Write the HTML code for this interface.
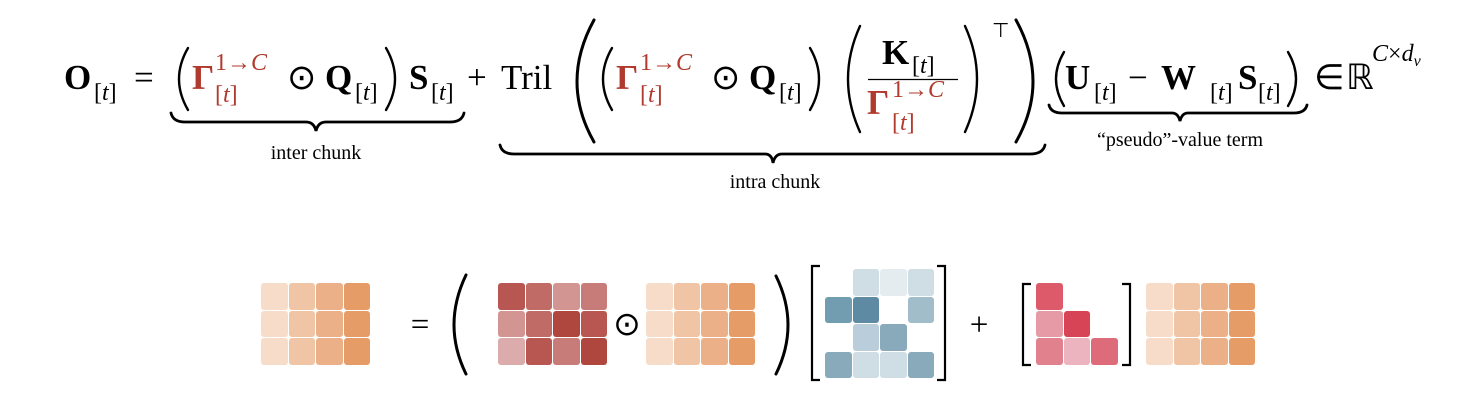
<!DOCTYPE html>
<html><head><meta charset="utf-8"><style>
body{margin:0;width:1482px;height:416px;background:#fff;overflow:hidden;position:relative}
svg{position:absolute;left:0;top:0}
.g{position:absolute;display:grid;gap:1px}
.g div{border-radius:3px}
</style></head><body>
<svg width="1482" height="416" font-family="Liberation Serif, serif">
<g font-size="35" fill="#000">
<text x="64" y="89" font-weight="bold">O</text>
<text x="94" y="100" font-size="24">[<tspan font-style="italic">t</tspan>]</text>
<text x="134" y="89">=</text>
<text x="409" y="89" font-weight="bold">S</text>
<text x="431" y="100" font-size="24">[<tspan font-style="italic">t</tspan>]</text>
<text x="467" y="89">+</text>
<text x="501" y="89">Tril</text>
<text x="287" y="89">⊙</text>
<text x="325" y="89" font-weight="bold">Q</text>
<text x="355" y="100" font-size="24">[<tspan font-style="italic">t</tspan>]</text>
<text x="711" y="89">⊙</text>
<text x="749" y="89" font-weight="bold">Q</text>
<text x="779" y="100" font-size="24">[<tspan font-style="italic">t</tspan>]</text>
<text x="882" y="64" font-weight="bold">K</text>
<text x="912" y="73" font-size="24">[<tspan font-style="italic">t</tspan>]</text>
<text x="992" y="37" font-size="20">⊤</text>
<text x="1065" y="89" font-weight="bold">U</text>
<text x="1094" y="100" font-size="24">[<tspan font-style="italic">t</tspan>]</text>
<text x="1128" y="89">−</text>
<text x="1161" y="89" font-weight="bold">W</text>
<text x="1210" y="100" font-size="24">[<tspan font-style="italic">t</tspan>]</text>
<text x="1238" y="89" font-weight="bold">S</text>
<text x="1258" y="100" font-size="24">[<tspan font-style="italic">t</tspan>]</text>
<text x="1314" y="89">∈</text>
<text x="1346" y="89">ℝ</text>
<text x="1372" y="61" font-size="24" font-style="italic">C<tspan font-style="normal">×</tspan>d<tspan font-size="16" dy="5">v</tspan></text>
</g>
<g fill="#b03a2e">
<text x="192" y="89" font-size="35" font-weight="bold">Γ</text>
<text x="215" y="70" font-size="24">1→<tspan font-style="italic">C</tspan></text>
<text x="215" y="102" font-size="24">[<tspan font-style="italic">t</tspan>]</text>
<text x="616" y="89" font-size="35" font-weight="bold">Γ</text>
<text x="640" y="70" font-size="24">1→<tspan font-style="italic">C</tspan></text>
<text x="640" y="102" font-size="24">[<tspan font-style="italic">t</tspan>]</text>
<text x="867" y="114" font-size="35" font-weight="bold">Γ</text>
<text x="892" y="97" font-size="24">1→<tspan font-style="italic">C</tspan></text>
<text x="892" y="130" font-size="24">[<tspan font-style="italic">t</tspan>]</text>
</g>
<line x1="868" y1="79.5" x2="958" y2="79.5" stroke="#000" stroke-width="1.2"/>
<g fill="none" stroke="#000" stroke-width="2.4" stroke-linecap="round">
<path d="M188 48 Q170 79 188 110"/><path d="M386 48 Q404 79 386 110"/>
<path d="M612 48 Q594 79 612 110"/><path d="M810 48 Q828 79 810 110"/>
<path d="M860 26 Q836 79 860 132"/><path d="M965 26 Q989 79 965 132"/>
<path d="M1064 52 Q1048 79 1064 106"/><path d="M1288 52 Q1304 79 1288 106"/>
<path d="M594 20 Q560 82 594 142" stroke-width="3"/><path d="M1016 20 Q1050 82 1016 142" stroke-width="3"/>
<path d="M171 113 Q173 122 185 122 L306 122 Q314 122 316 131 Q318 122 326 122 L450 122 Q462 122 464 113" stroke-width="2.8"/>
<path d="M500 145 Q502 154 514 154 L765 154 Q772 154 773 163 Q775 154 782 154 L1030 154 Q1043 154 1045 145" stroke-width="2.8"/>
<path d="M1049 105 Q1051 113 1062 113 L1172 113 Q1178 113 1180 121 Q1182 113 1188 113 L1294 113 Q1305 113 1307 105" stroke-width="2.8"/>
<path d="M466 275 Q442 325 466 374" stroke-width="3"/>
<path d="M776 276 Q800 325 776 374" stroke-width="3"/>
<path d="M820 266 L812 266 L812 380 L820 380" stroke-width="2.2" stroke-linecap="butt"/>
<path d="M937 266 L945 266 L945 380 L937 380" stroke-width="2.2" stroke-linecap="butt"/>
<path d="M1031 284 L1023 284 L1023 365 L1031 365" stroke-width="2.2" stroke-linecap="butt"/>
<path d="M1122 284 L1130 284 L1130 365 L1122 365" stroke-width="2.2" stroke-linecap="butt"/>
</g>
<g font-size="20" fill="#000" text-anchor="middle">
<text x="316" y="159">inter chunk</text>
<text x="775" y="188">intra chunk</text>
<text x="1180" y="146">“pseudo”-value term</text>
</g>
<g font-size="33" fill="#000" text-anchor="middle">
<text x="420" y="335">=</text>
<text x="627" y="335">⊙</text>
<text x="979" y="335">+</text>
</g>
</svg>

<div class="g" style="left:261px;top:283px;grid-template-columns:repeat(4,26.5px);grid-template-rows:repeat(3,26.5px)">
<div style="background:#f6dcc9"></div><div style="background:#f0c5a6"></div><div style="background:#ebb087"></div><div style="background:#e59c67"></div>
<div style="background:#f6dcc9"></div><div style="background:#f0c5a6"></div><div style="background:#ebb087"></div><div style="background:#e59c67"></div>
<div style="background:#f6dcc9"></div><div style="background:#f0c5a6"></div><div style="background:#ebb087"></div><div style="background:#e59c67"></div>
</div>
<div class="g" style="left:498px;top:283px;grid-template-columns:repeat(4,26.5px);grid-template-rows:repeat(3,26.5px)">
<div style="background:#b85651"></div><div style="background:#c16b67"></div><div style="background:#d29592"></div><div style="background:#c77c7a"></div>
<div style="background:#d29592"></div><div style="background:#c16b67"></div><div style="background:#b0473f"></div><div style="background:#b85651"></div>
<div style="background:#dcabab"></div><div style="background:#b85651"></div><div style="background:#c77c7a"></div><div style="background:#b0473f"></div>
</div>
<div class="g" style="left:646px;top:283px;grid-template-columns:repeat(4,26.5px);grid-template-rows:repeat(3,26.5px)">
<div style="background:#f6dcc9"></div><div style="background:#f0c5a6"></div><div style="background:#ebb087"></div><div style="background:#e59c67"></div>
<div style="background:#f6dcc9"></div><div style="background:#f0c5a6"></div><div style="background:#ebb087"></div><div style="background:#e59c67"></div>
<div style="background:#f6dcc9"></div><div style="background:#f0c5a6"></div><div style="background:#ebb087"></div><div style="background:#e59c67"></div>
</div>
<div class="g" style="left:825px;top:269px;grid-template-columns:repeat(4,26.5px);grid-template-rows:repeat(4,26.5px)">
<div></div><div style="background:#cfdde5"></div><div style="background:#e4ecf0"></div><div style="background:#cfdde5"></div>
<div style="background:#729cb0"></div><div style="background:#5f8aa3"></div><div></div><div style="background:#a1bdc9"></div>
<div></div><div style="background:#b9ceda"></div><div style="background:#89aabb"></div><div></div>
<div style="background:#89aabb"></div><div style="background:#cfdde5"></div><div style="background:#cfdde5"></div><div style="background:#89aabb"></div>
</div>
<div class="g" style="left:1036px;top:283px;grid-template-columns:repeat(3,26.5px);grid-template-rows:repeat(3,26.5px)">
<div style="background:#dc5a6a"></div><div></div><div></div>
<div style="background:#e69aa5"></div><div style="background:#d64455"></div><div></div>
<div style="background:#e2818e"></div><div style="background:#ecb4bf"></div><div style="background:#de6b7a"></div>
</div>
<div class="g" style="left:1146px;top:283px;grid-template-columns:repeat(4,26.5px);grid-template-rows:repeat(3,26.5px)">
<div style="background:#f6dcc9"></div><div style="background:#f0c5a6"></div><div style="background:#ebb087"></div><div style="background:#e59c67"></div>
<div style="background:#f6dcc9"></div><div style="background:#f0c5a6"></div><div style="background:#ebb087"></div><div style="background:#e59c67"></div>
<div style="background:#f6dcc9"></div><div style="background:#f0c5a6"></div><div style="background:#ebb087"></div><div style="background:#e59c67"></div>
</div>
</body></html>
